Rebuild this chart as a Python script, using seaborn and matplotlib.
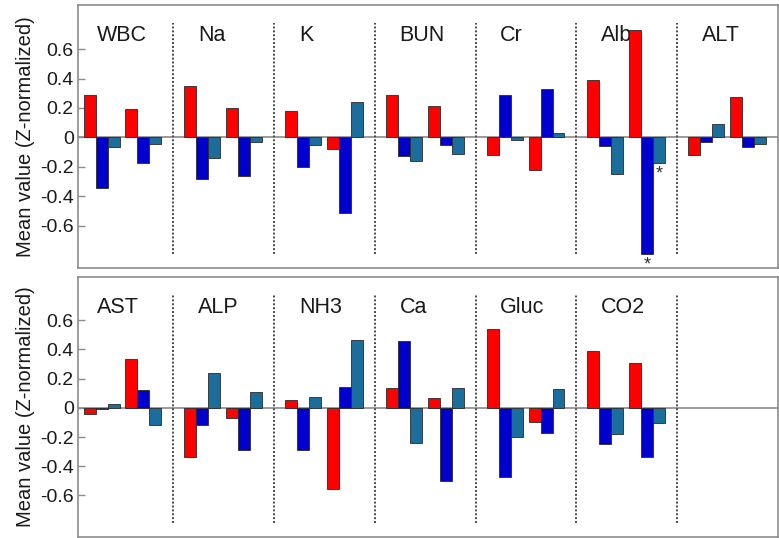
import numpy as np
import pandas as pd
import matplotlib
matplotlib.use("Agg")
import matplotlib.pyplot as plt
import seaborn as sns

# ---------------- data ----------------
categories = ["WBC", "Na", "K", "BUN", "Cr", "Alb", "ALT",
              "AST", "ALP", "NH3", "Ca", "Gluc", "CO2"]
top_categories = categories[:7]
bottom_categories = categories[7:]

set1_red = [0.29, 0.35, 0.18, 0.29, -0.12, 0.39, -0.12,
            -0.045, -0.34, 0.057, 0.134, 0.542, 0.392]
set1_blue = [-0.342, -0.283, -0.204, -0.125, 0.29, -0.057, -0.032,
             -0.005, -0.12, -0.286, 0.458, -0.472, -0.249]
set1_teal = [-0.063, -0.143, -0.052, -0.159, -0.018, -0.252, 0.093,
             0.027, 0.236, 0.077, -0.243, -0.197, -0.179]
set2_red = [0.195, 0.197, -0.077, 0.213, -0.222, 0.728, 0.272,
            0.333, -0.068, -0.556, 0.07, -0.10, 0.308]
set2_blue = [-0.177, -0.263, -0.515, -0.052, 0.329, -0.791, -0.063,
             0.125, -0.29, 0.141, -0.499, -0.175, -0.34]
set2_teal = [-0.045, -0.034, 0.238, -0.111, 0.032, -0.175, -0.043,
             -0.118, 0.111, 0.463, 0.134, 0.129, -0.104]

series_names = ["set1_red", "set1_blue", "set1_teal",
                "set2_red", "set2_blue", "set2_teal"]
series_values = [set1_red, set1_blue, set1_teal, set2_red, set2_blue, set2_teal]
series_colors = ["#ff0000", "#0000cc", "#1b6d9b", "#ff0000", "#0000cc", "#1b6d9b"]

significant = [("Alb", "set2_blue"), ("Alb", "set2_teal")]

yticks = [-0.6, -0.4, -0.2, 0, 0.2, 0.4, 0.6]
ytick_labels = ["-0.6", "-0.4", "-0.2", "0", "0.2", "0.4", "0.6"]

# ---------------- layout helpers ----------------
GROUP_W = 8.4
BAR_OFFSETS = [1.4, 2.4, 3.4, 4.9, 5.9, 6.9]

rows = []
for name, vals in zip(series_names, series_values):
    for i, cat in enumerate(categories):
        panel = 0 if cat in top_categories else 1
        g = top_categories.index(cat) if panel == 0 else bottom_categories.index(cat)
        rows.append(dict(category=cat, series=name, value=vals[i], panel=panel,
                         pos=round(g * GROUP_W + BAR_OFFSETS[series_names.index(name)], 3)))
df = pd.DataFrame(rows)

sns.set_theme(style="white")
plt.rcParams["font.family"] = ["Liberation Sans", "DejaVu Sans"]

W, H = 779, 538
fig = plt.figure(figsize=(W / 100, H / 100), dpi=100)
ax_top = fig.add_axes([78 / W, 1 - 267.5 / H, (778 - 78) / W, (267.5 - 5) / H])
ax_bot = fig.add_axes([78 / W, 1 - 537 / H, (778 - 78) / W, (537 - 276.5) / H])

spine_col = "#8c8c8c"
palette = dict(zip(series_names, series_colors))

for p, (ax, cats) in enumerate([(ax_top, top_categories), (ax_bot, bottom_categories)]):
    d = df[df.panel == p]
    sns.barplot(data=d, x="pos", y="value", hue="series", hue_order=series_names,
                palette=palette, saturation=1, native_scale=True, dodge=False,
                width=1.0, errorbar=None, edgecolor="#2a2a2a", linewidth=0.6,
                legend=False, ax=ax, zorder=2)
    ax.set_xlim(0.44, 7 * GROUP_W)
    ax.set_ylim(-0.885, 0.9)
    ax.axhline(0, color="#8a8a8a", lw=1.2, zorder=1)
    for g in range(1, 7):
        ax.vlines(g * GROUP_W, -0.79, 0.78, colors="#4a4a4a",
                  linestyles=(0, (1, 1)), lw=1.4, zorder=1)
    for g, cat in enumerate(cats):
        ax.text(g * GROUP_W + 2.05, 0.69, cat, fontsize=15.5, ha="left",
                va="center", color="#1a1a1a", zorder=0.5)
    for cat, s in significant:
        if cat in cats:
            g = cats.index(cat)
            v = series_values[series_names.index(s)][categories.index(cat)]
            ax.text(g * GROUP_W + BAR_OFFSETS[series_names.index(s)], v - 0.018, "*",
                    fontsize=13, ha="center", va="top", color="#333333")
    ax.set_xticks([])
    ax.set_xlabel("")
    ax.set_yticks(yticks)
    ax.set_yticklabels(ytick_labels)
    ax.tick_params(axis="y", direction="in", length=5, width=1, color=spine_col,
                   pad=3, labelsize=14, labelcolor="#1a1a1a", left=True)
    ax.set_ylabel("Mean value (Z-normalized)", fontsize=14.5, color="#1a1a1a", labelpad=4)
    for sp in ax.spines.values():
        sp.set_visible(True)
        sp.set_color(spine_col)
        sp.set_linewidth(1.2)

fig.savefig("out.png", dpi=100)
